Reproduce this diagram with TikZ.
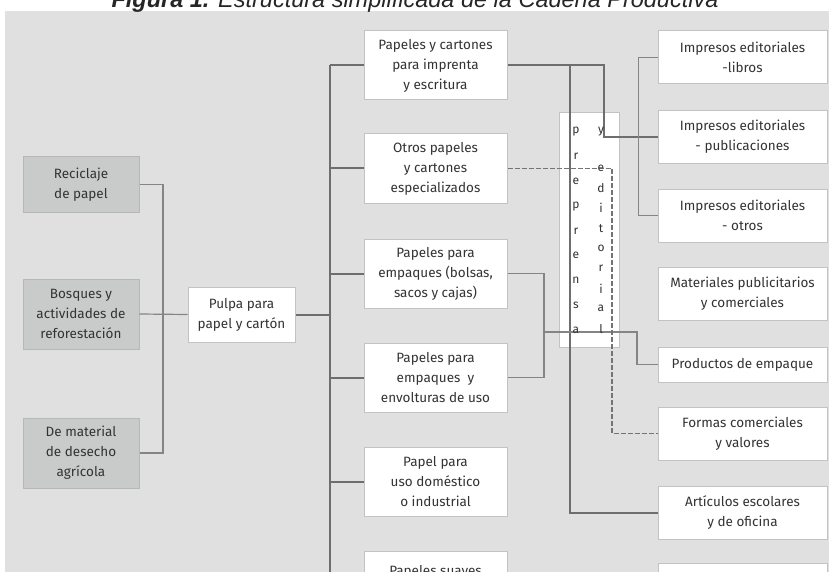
\documentclass[tikz,border=0pt]{standalone}
\usepackage{fontspec}
\setmainfont{Fira Sans}
\newfontfamily\titlefont{Liberation Sans}
\definecolor{bg}{HTML}{DFE0DF}
\definecolor{boxgray}{HTML}{C9CBCA}
\definecolor{boxborder}{HTML}{B6B8B7}
\definecolor{wborder}{HTML}{C2C3C2}
\definecolor{txt}{HTML}{333333}
\definecolor{darkline}{HTML}{6E6E6E}
\definecolor{thinline}{HTML}{858585}
\definecolor{dashline}{HTML}{747474}
\begin{document}
\begin{tikzpicture}[x=1pt,y=-1pt,
  every node/.style={text=txt},
  boxtext/.style={align=center, inner sep=1pt, font=\fontsize{13.5}{20}\selectfont},
  graybox/.style={boxtext, draw=boxborder, fill=boxgray, line width=1pt},
  whitebox/.style={boxtext, draw=wborder, fill=white, line width=1pt},
  midbox/.style={whitebox, minimum width=143pt, minimum height=69pt},
  rightbox/.style={whitebox, minimum width=169pt, minimum height=53pt},
  thick link/.style={draw=darkline, line width=2pt},
  thin link/.style={draw=thinline, line width=1.2pt},
  dash link/.style={draw=dashline, line width=1.7pt, dash pattern=on 5pt off 2pt},
  letter/.style={font=\fontsize{12}{12}\selectfont, inner sep=0pt}
]
\useasboundingbox (0,0) rectangle (829,572);
\fill[bg] (5,11) rectangle (830,573);

% title (cut at the top edge)
\node[anchor=base, text=black!85, inner sep=0pt] (title) at (415,7.5)
  {\titlefont\itshape\fontsize{23.5}{23.5}\selectfont\textbf{Figura 1.} Estructura simplificada de la Cadena Productiva};

% left column
\node[graybox, minimum width=116pt, minimum height=55pt] (rec) at (81,184.5) {Reciclaje\\de papel};
\node[graybox, minimum width=116pt, minimum height=70pt] (bos) at (81,314) {Bosques y\\actividades de\\reforestación};
\node[graybox, minimum width=116pt, minimum height=70pt] (des) at (81,453) {De material\\de desecho\\agrícola};
\node[whitebox, minimum width=107pt, minimum height=55pt] (pul) at (241.5,314.5) {Pulpa para\\papel y cartón};

% middle column
\node[midbox] (m1) at (435.5,65.5) {Papeles y cartones\\para imprenta\\y escritura};
\node[midbox] (m2) at (435.5,168.5) {Otros papeles\\y cartones\\especializados};
\node[midbox] (m3) at (435.5,273.5) {Papeles para\\empaques (bolsas,\\sacos y cajas)};
\node[midbox] (m4) at (435.5,377.5) {Papeles para\\empaques\ \ y\\envolturas de uso};
\node[midbox] (m5) at (435.5,481.5) {Papel para\\uso doméstico\\o industrial};
\node[midbox] (m6) at (435.5,585.5) {};
\node[boxtext, anchor=base] (m6t) at (435.5,575) {Papeles suaves};

% right column
\node[rightbox] (r1) at (742.5,57.5) {Impresos editoriales\\-libros};
\node[rightbox] (r2) at (742.5,137) {Impresos editoriales\\- publicaciones};
\node[rightbox] (r3) at (742.5,215.5) {Impresos editoriales\\- otros};
\node[rightbox] (r4) at (742.5,294) {Materiales publicitarios\\y comerciales};
\node[rightbox, minimum height=35pt] (r5) at (742.5,364.5) {Productos de empaque};
\node[rightbox] (r6) at (742.5,433.5) {Formas comerciales\\y valores};
\node[rightbox] (r7) at (742.5,513) {Artículos escolares\\y de oficina};
\node[rightbox, minimum height=57pt] (r8) at (742.5,591.5) {};

% preprensa box
\node[draw=wborder, fill=white, line width=1pt, minimum width=60pt, minimum height=234pt, inner sep=0pt] (pp) at (589,230) {};

% left connectors
\draw[thin link] (rec.east) -- (163,184.5) coordinate (jl) |- (des.east);
\draw[thin link] (bos.east) -- (pul.west);

% trunk
\coordinate (ttop) at (330,65.5);
\coordinate (tbot) at (330,573);
\draw[thick link] (ttop) -- (tbot);
\draw[thick link] (pul.east) -- (330,314.5);
\foreach \m in {m1,m2,m3,m4,m5}{
  \draw[thick link] (330,0 |- \m.west) -- (\m.west);
}
\draw[thick link] (330,585.5) -- (m6.west);

% printing & writing paper links
\draw[thick link] (m1.east) -- (604,65.5) coordinate (ja) |- (r2.west);
\draw[thick link] (570,65.5) coordinate (jb) |- (r7.west);

% bracket libros / otros
\draw[thin link] (r1.west) -- ++(-19,0) coordinate (jc) |- (r3.west);

% packaging links
\draw[thin link] (m3.east) -- (544,273.5) coordinate (jd) |- (m4.east);
\draw[thin link] (544,332) coordinate (je) -- (637,332) |- (r5.west);

% dashed link
\draw[dash link] (m2.east) -- (612,168.5) coordinate (jf) |- (r6.west);

% letters
\foreach \l [count=\i from 0] in {p,r,e,p,r,e,n,s,a}{
  \node[letter] (pl\i) at (576,132+24.75*\i) {\l};
}
\node[letter] (ey) at (601,132) {y};
\foreach \l [count=\i from 0] in {e,d,i,t,o,r,i,a,l}{
  \node[letter] (el\i) at (601,168+20.1*\i) {\l};
}
\end{tikzpicture}
\end{document}
